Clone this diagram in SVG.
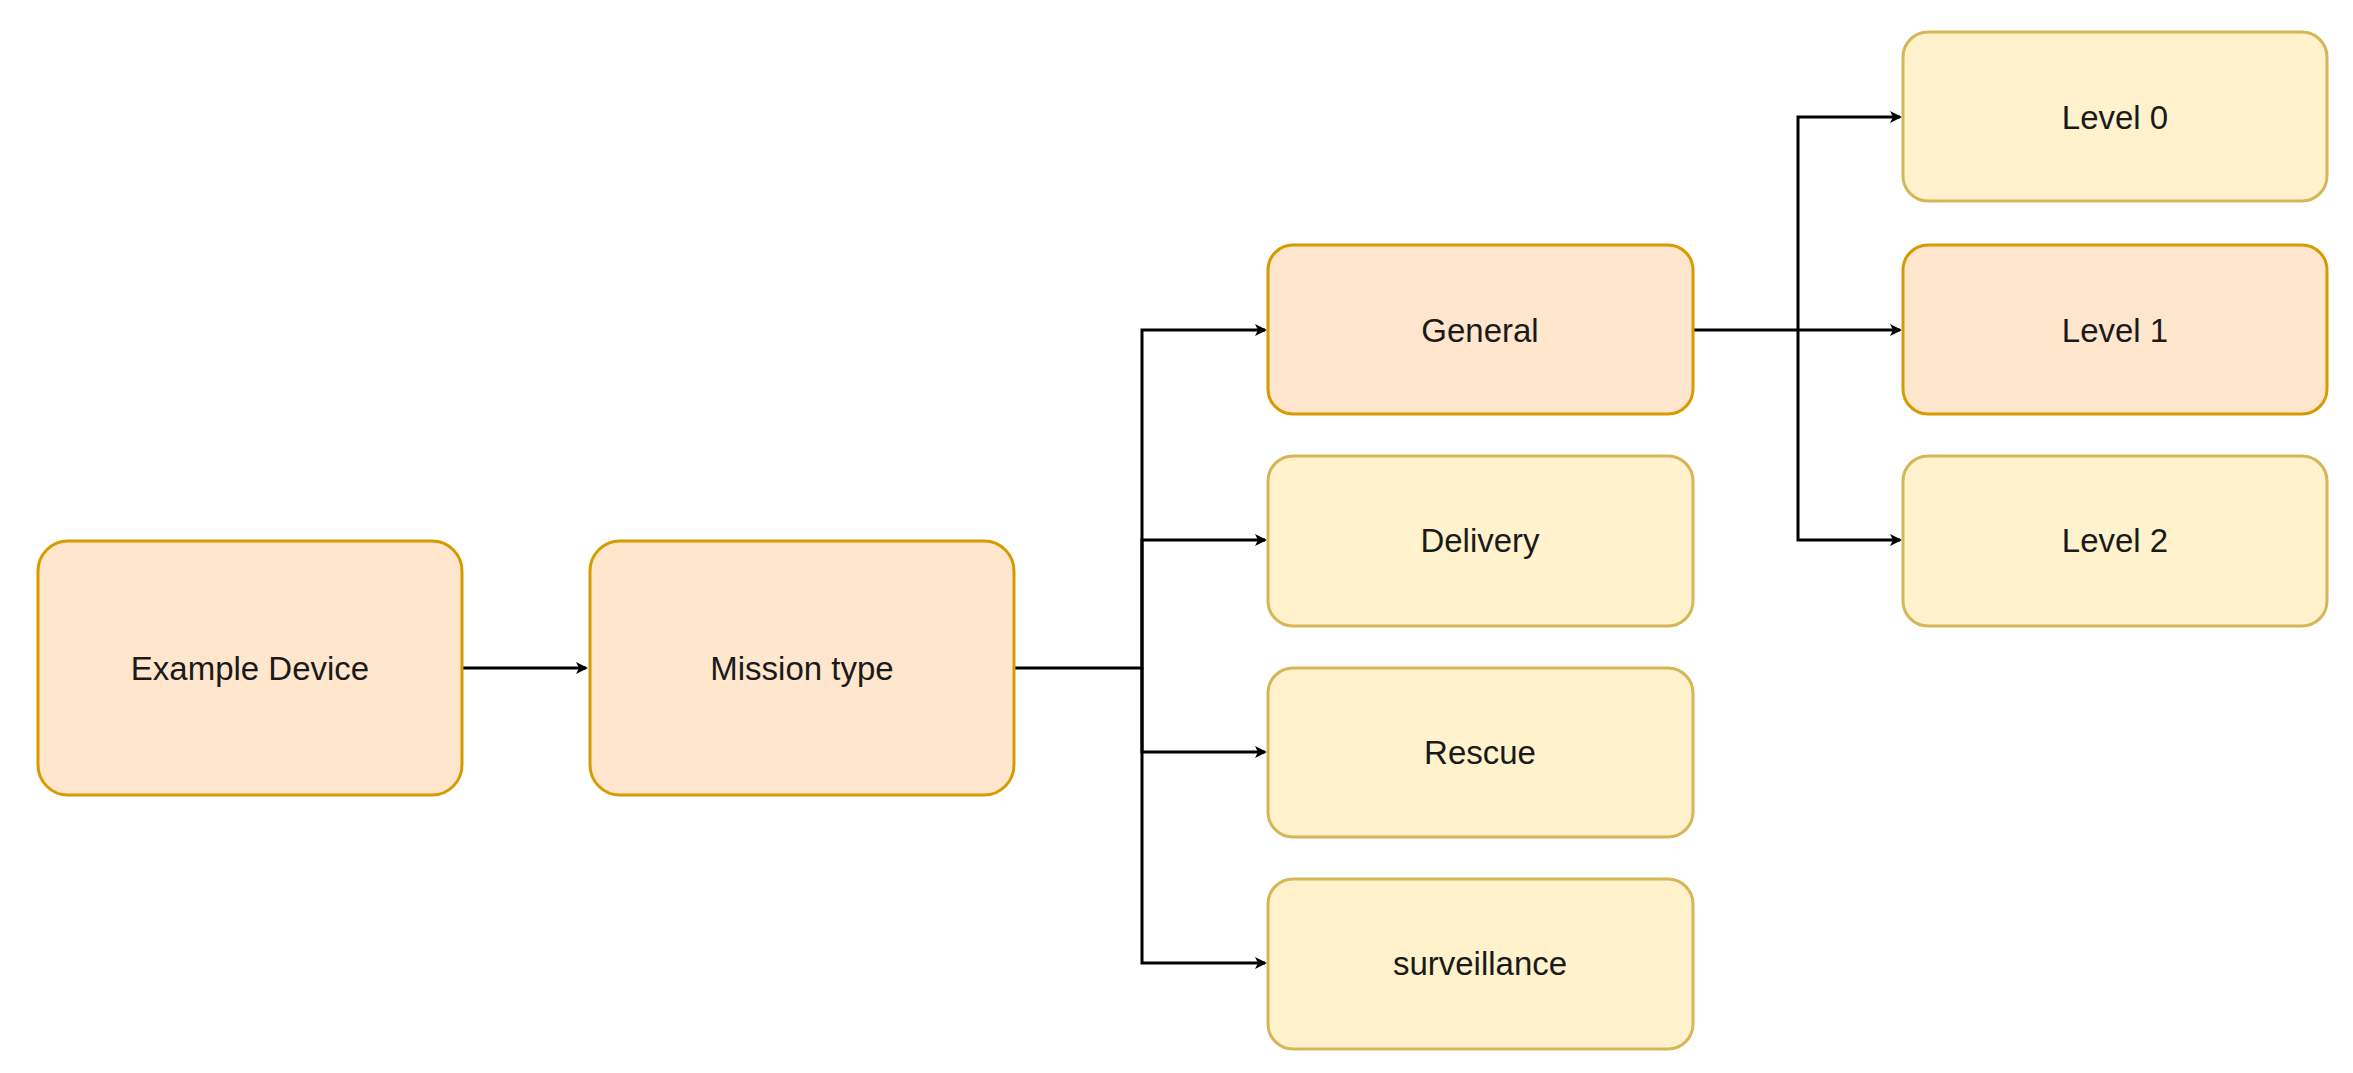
<svg xmlns="http://www.w3.org/2000/svg" width="2353" height="1073" viewBox="0 0 2353 1073">
<style>
.a rect{fill:#ffe6cc;stroke:#d79b00;stroke-width:3}
.b rect{fill:#fff2cc;stroke:#d6b656;stroke-width:3}
text{font-family:"Liberation Sans",Arial,sans-serif;font-size:33px;fill:#1a1a1a;text-anchor:middle;dominant-baseline:central}
.c path{fill:none;stroke:#000;stroke-width:3}
</style>
<defs><marker id="m" markerWidth="12" markerHeight="12" refX="10" refY="6" orient="auto" markerUnits="userSpaceOnUse" viewBox="0 0 12 12"><path d="M0,0 L12,6 L0,12 L3,6 Z" fill="#000"/></marker></defs>
<rect width="2353" height="1073" fill="#fff"/>
<g class="c" id="connectors">
<path d="M462,668 H586" marker-end="url(#m)"/>
<path d="M1014,668 H1142 V330 H1265" marker-end="url(#m)"/>
<path d="M1142,668 V540 H1265" marker-end="url(#m)"/>
<path d="M1142,668 V752 H1265" marker-end="url(#m)"/>
<path d="M1142,668 V963 H1265" marker-end="url(#m)"/>
<path d="M1693,330 H1900" marker-end="url(#m)"/>
<path d="M1798,330 V117 H1900" marker-end="url(#m)"/>
<path d="M1798,330 V540 H1900" marker-end="url(#m)"/>
</g>
<g id="n1" class="a"><rect x="38" y="541" width="424" height="254" rx="30"/><text x="250" y="668">Example Device</text></g>
<g id="n2" class="a"><rect x="590" y="541" width="424" height="254" rx="30"/><text x="802" y="668">Mission type</text></g>
<g id="n3" class="a"><rect x="1268" y="245" width="425" height="169" rx="25"/><text x="1480" y="330">General</text></g>
<g id="n4" class="b"><rect x="1268" y="456" width="425" height="170" rx="25"/><text x="1480" y="540">Delivery</text></g>
<g id="n5" class="b"><rect x="1268" y="668" width="425" height="169" rx="25"/><text x="1480" y="752">Rescue</text></g>
<g id="n6" class="b"><rect x="1268" y="879" width="425" height="170" rx="25"/><text x="1480" y="963">surveillance</text></g>
<g id="n7" class="b"><rect x="1903" y="32" width="424" height="169" rx="25"/><text x="2115" y="117">Level 0</text></g>
<g id="n8" class="a"><rect x="1903" y="245" width="424" height="169" rx="25"/><text x="2115" y="330">Level 1</text></g>
<g id="n9" class="b"><rect x="1903" y="456" width="424" height="170" rx="25"/><text x="2115" y="540">Level 2</text></g>
</svg>
